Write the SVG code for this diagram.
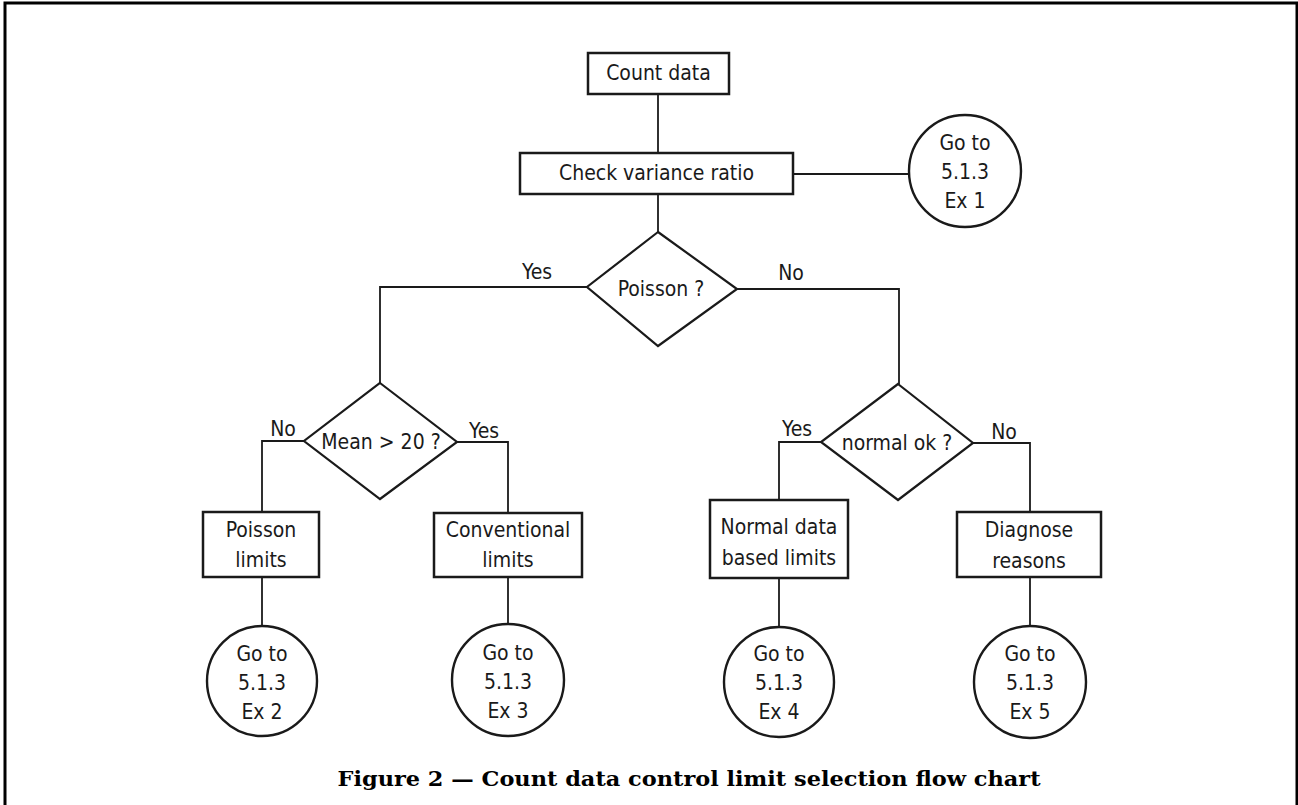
<svg xmlns="http://www.w3.org/2000/svg" width="1298" height="805" viewBox="0 0 1298 805">
<style>
.box{fill:#fff;stroke:#1a1a1a;stroke-width:2.5}
.dia{fill:#fff;stroke:#1a1a1a;stroke-width:2.2}
.circ{fill:#fff;stroke:#1a1a1a;stroke-width:2.4}
.ln{fill:none;stroke:#1a1a1a;stroke-width:1.8}
.t{font-family:"DejaVu Sans Condensed","DejaVu Sans",sans-serif;font-stretch:condensed;font-size:21px;fill:#1a1a1a;text-anchor:middle}
.cap{font-family:"DejaVu Serif","Liberation Serif",serif;font-weight:bold;font-size:20px;fill:#000;text-anchor:middle}
</style>
<rect width="1298" height="805" fill="#fff"/>
<path d="M5,805 V3 H1297 V805" fill="none" stroke="#000" stroke-width="3"/>
<g id="connectors">
<path class="ln" d="M658,94 V153"/>
<path class="ln" d="M793,174 H910"/>
<path class="ln" d="M658,194 V232"/>
<path class="ln" d="M587,287 H380 V383"/>
<path class="ln" d="M737,289 H899 V384"/>
<path class="ln" d="M304,441 H262 V512"/>
<path class="ln" d="M457,442 H508 V513"/>
<path class="ln" d="M821,442 H779 V500"/>
<path class="ln" d="M973,443 H1030 V512"/>
<path class="ln" d="M262,577 V626"/>
<path class="ln" d="M508,577 V624"/>
<path class="ln" d="M779,578 V627"/>
<path class="ln" d="M1030,577 V626"/>
<text class="t" x="537" y="279">Yes</text>
<text class="t" x="791" y="280">No</text>
<text class="t" x="283" y="436">No</text>
<text class="t" x="484" y="438">Yes</text>
<text class="t" x="797" y="436">Yes</text>
<text class="t" x="1004" y="439">No</text>
</g>
<g id="count-data">
<rect class="box" x="588" y="53" width="141" height="41"/>
<text class="t" x="658.5" y="80">Count data</text>
</g>
<g id="check-variance">
<rect class="box" x="520" y="153" width="273" height="41"/>
<text class="t" x="656.5" y="180">Check variance ratio</text>
</g>
<g id="goto-ex1">
<circle class="circ" cx="965" cy="171" r="56"/>
<text class="t" x="965" y="150">Go to</text>
<text class="t" x="965" y="179">5.1.3</text>
<text class="t" x="965" y="208">Ex 1</text>
</g>
<g id="poisson-q">
<polygon class="dia" points="658,232 737,289 658,346 587,287"/>
<text class="t" x="661" y="296">Poisson ?</text>
</g>
<g id="mean-q">
<polygon class="dia" points="380,383 457,442 380,499 304,441"/>
<text class="t" x="381" y="449">Mean &gt; 20 ?</text>
</g>
<g id="normal-q">
<polygon class="dia" points="898,384 973,443 898,500 821,442"/>
<text class="t" x="897" y="450">normal ok ?</text>
</g>
<g id="poisson-limits">
<rect class="box" x="203" y="512" width="116" height="65"/>
<text class="t" x="261" y="537">Poisson</text>
<text class="t" x="261" y="567">limits</text>
</g>
<g id="conventional-limits">
<rect class="box" x="434" y="513" width="148" height="64"/>
<text class="t" x="508" y="537">Conventional</text>
<text class="t" x="508" y="567">limits</text>
</g>
<g id="normal-limits">
<rect class="box" x="710" y="500" width="138" height="78"/>
<text class="t" x="779" y="534">Normal data</text>
<text class="t" x="779" y="565">based limits</text>
</g>
<g id="diagnose">
<rect class="box" x="957" y="512" width="144" height="65"/>
<text class="t" x="1029" y="537">Diagnose</text>
<text class="t" x="1029" y="568">reasons</text>
</g>
<g id="goto-ex2">
<circle class="circ" cx="262" cy="681" r="55"/>
<text class="t" x="262" y="661">Go to</text>
<text class="t" x="262" y="690">5.1.3</text>
<text class="t" x="262" y="719">Ex 2</text>
</g>
<g id="goto-ex3">
<circle class="circ" cx="508" cy="680" r="56"/>
<text class="t" x="508" y="660">Go to</text>
<text class="t" x="508" y="689">5.1.3</text>
<text class="t" x="508" y="718">Ex 3</text>
</g>
<g id="goto-ex4">
<circle class="circ" cx="779" cy="682" r="55"/>
<text class="t" x="779" y="661">Go to</text>
<text class="t" x="779" y="690">5.1.3</text>
<text class="t" x="779" y="719">Ex 4</text>
</g>
<g id="goto-ex5">
<circle class="circ" cx="1030" cy="682" r="56"/>
<text class="t" x="1030" y="661">Go to</text>
<text class="t" x="1030" y="690">5.1.3</text>
<text class="t" x="1030" y="719">Ex 5</text>
</g>
<text class="cap" x="689" y="786" textLength="703" lengthAdjust="spacingAndGlyphs">Figure 2 — Count data control limit selection flow chart</text>
</svg>
